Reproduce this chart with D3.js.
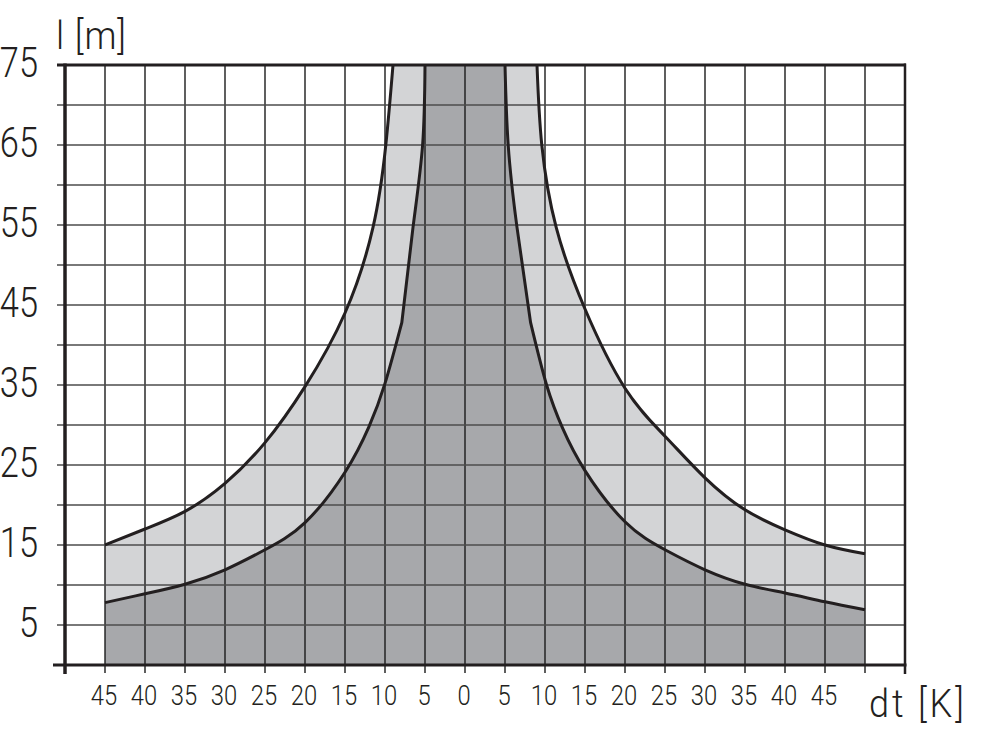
<!DOCTYPE html>
<html>
<head lang="en">
    <meta charset="UTF-8">
    <title>dt / l chart</title>
    <script type="text/javascript" src="https://cdn.jsdelivr.net/npm/d3@7"></script>
    <style>
        body { margin: 0; background: #fff; }
        text { font-family: Roboto, "DejaVu Sans", sans-serif; font-weight: 300; fill: #231f20; }
    </style>
</head>
<body>
<svg id="mainSvg"></svg>
<script>
    // temperature difference dt [K] (left side negative) and length l [m]
    var outerLeftDt  = [-45, -40, -35, -30, -25, -20, -15, -11.5, -9.9, -9];
    var outerLeftL   = [15, 17, 19.2, 22.7, 27.8, 34.8, 44, 54.7, 65, 75];
    var outerRightDt = [9, 9.6, 11.4, 15, 20, 25, 30, 35, 40, 45, 50];
    var outerRightL  = [75, 65, 54.7, 44.5, 34.6, 28.6, 23.4, 19.4, 16.9, 15, 13.9];
    // inner curves have a kink (kinkIndex) where the steep part starts
    var innerLeftDt  = [-45, -40, -35, -30, -25, -20, -15, -12, -10, -7.9, -6.5, -5.3, -5];
    var innerLeftL   = [7.8, 8.9, 10.1, 11.9, 14.4, 17.8, 24.1, 29.8, 35.2, 42.8, 54.7, 65, 75];
    var innerLeftKink = 9;
    var innerRightDt = [5, 5.4, 6.5, 8.2, 10.2, 12.2, 15, 20, 25, 30, 35, 40, 45, 50];
    var innerRightL  = [75, 65, 54.7, 42.8, 35, 29.6, 24.3, 17.9, 14.4, 11.9, 10.1, 9, 7.9, 6.9];
    var innerRightKink = 3;

    var xTicks = d3.range(-50, 56, 5);
    var xLabels = [-45, -40, -35, -30, -25, -20, -15, -10, -5, 0, 5, 10, 15, 20, 25, 30, 35, 40, 45];
    var yTicks = d3.range(5, 76, 5);
    var yLabels = [5, 15, 25, 35, 45, 55, 65, 75];

    var w = 1000, h = 729;
    var svg = d3.select("#mainSvg").attr("width", w).attr("height", h);

    var x = d3.scaleLinear().domain([-50, 55]).range([65, 905]);
    var y = d3.scaleLinear().domain([0, 75]).range([665, 65]);

    function pts(dts, ls) {
        return dts.map(function (d, i) { return [d, ls[i]]; });
    }
    var outerL = pts(outerLeftDt, outerLeftL), outerR = pts(outerRightDt, outerRightL);
    var innerL = pts(innerLeftDt, innerLeftL), innerR = pts(innerRightDt, innerRightL);

    var line = d3.line()
            .x(function (d) { return x(d[0]); })
            .y(function (d) { return y(d[1]); })
            .curve(d3.curveNatural);

    // each side as list of smooth pieces
    var outerLeftParts = [outerL];
    var outerRightParts = [outerR];
    var innerLeftParts = [innerL.slice(0, innerLeftKink + 1), innerL.slice(innerLeftKink)];
    var innerRightParts = [innerR.slice(0, innerRightKink + 1), innerR.slice(innerRightKink)];

    function joined(parts) {
        return parts.map(function (p, i) {
            var s = line(p);
            return i === 0 ? s : s.replace(/^M/, "L");
        }).join("");
    }
    function fillPath(leftParts, rightParts, x0, x1) {
        return joined(leftParts) + joined(rightParts).replace(/^M/, "L") +
                "L" + x(x1) + "," + y(0) + "L" + x(x0) + "," + y(0) + "Z";
    }

    svg.append("path").attr("d", fillPath(outerLeftParts, outerRightParts, outerLeftDt[0], outerRightDt[outerRightDt.length - 1]))
            .attr("fill", "#d3d4d6");
    svg.append("path").attr("d", fillPath(innerLeftParts, innerRightParts, innerLeftDt[0], innerRightDt[innerRightDt.length - 1]))
            .attr("fill", "#a7a8ab");

    // grid
    svg.selectAll("line.vg")
            .data(xTicks.slice(1, -1))
            .enter()
            .append("line")
            .attr("x1", function (d) { return x(d); })
            .attr("x2", function (d) { return x(d); })
            .attr("y1", y(75))
            .attr("y2", y(0) + 8)
            .attr("stroke", "#1a1a1a")
            .attr("stroke-width", 1.4);
    svg.selectAll("line.hg")
            .data(yTicks.slice(0, -1))
            .enter()
            .append("line")
            .attr("x1", x(-50) - 8)
            .attr("x2", x(55))
            .attr("y1", function (d) { return y(d); })
            .attr("y2", function (d) { return y(d); })
            .attr("stroke", "#4d4d4d")
            .attr("stroke-width", 1.4);

    // curves
    [outerLeftParts, outerRightParts, innerLeftParts, innerRightParts].forEach(function (parts) {
        svg.append("path").attr("d", joined(parts))
                .attr("fill", "none").attr("stroke", "#231f20").attr("stroke-width", 3)
                .attr("stroke-linejoin", "miter");
    });

    // frame
    svg.append("line").attr("x1", x(-50) - 8).attr("x2", x(55) + 1)
            .attr("y1", y(75)).attr("y2", y(75)).attr("stroke", "#231f20").attr("stroke-width", 3);
    svg.append("line").attr("x1", x(-50) - 12).attr("x2", x(55) + 1.5)
            .attr("y1", y(0)).attr("y2", y(0)).attr("stroke", "#231f20").attr("stroke-width", 3);
    svg.append("line").attr("x1", x(-50)).attr("x2", x(-50))
            .attr("y1", y(75) - 1.5).attr("y2", y(0) + 9).attr("stroke", "#231f20").attr("stroke-width", 3.5);
    svg.append("line").attr("x1", x(55)).attr("x2", x(55))
            .attr("y1", y(75) - 1.5).attr("y2", y(0) + 9).attr("stroke", "#231f20").attr("stroke-width", 2.5);

    // labels (narrow digits: squeeze horizontally)
    svg.selectAll("text.xl")
            .data(xLabels)
            .enter()
            .append("text")
            .attr("transform", function (d) { return "translate(" + (x(d) - 1) + ",705) scale(0.85,1)"; })
            .attr("text-anchor", "middle")
            .attr("font-size", 28)
            .text(function (d) { return Math.abs(d); });
    svg.selectAll("text.yl")
            .data(yLabels)
            .enter()
            .append("text")
            .attr("transform", function (d) { return "translate(38," + (y(d) + 12) + ") scale(0.8,1)"; })
            .attr("text-anchor", "end")
            .attr("font-size", 43)
            .text(function (d) { return d; });

    svg.append("text").attr("transform", "translate(56,49) scale(0.95,1)").attr("font-size", 38)
            .attr("letter-spacing", 1).text("l [m]");
    svg.append("text").attr("transform", "translate(869,717) scale(0.95,1)").attr("font-size", 38)
            .attr("letter-spacing", 3).text("dt [K]");
</script>
</body>
</html>
